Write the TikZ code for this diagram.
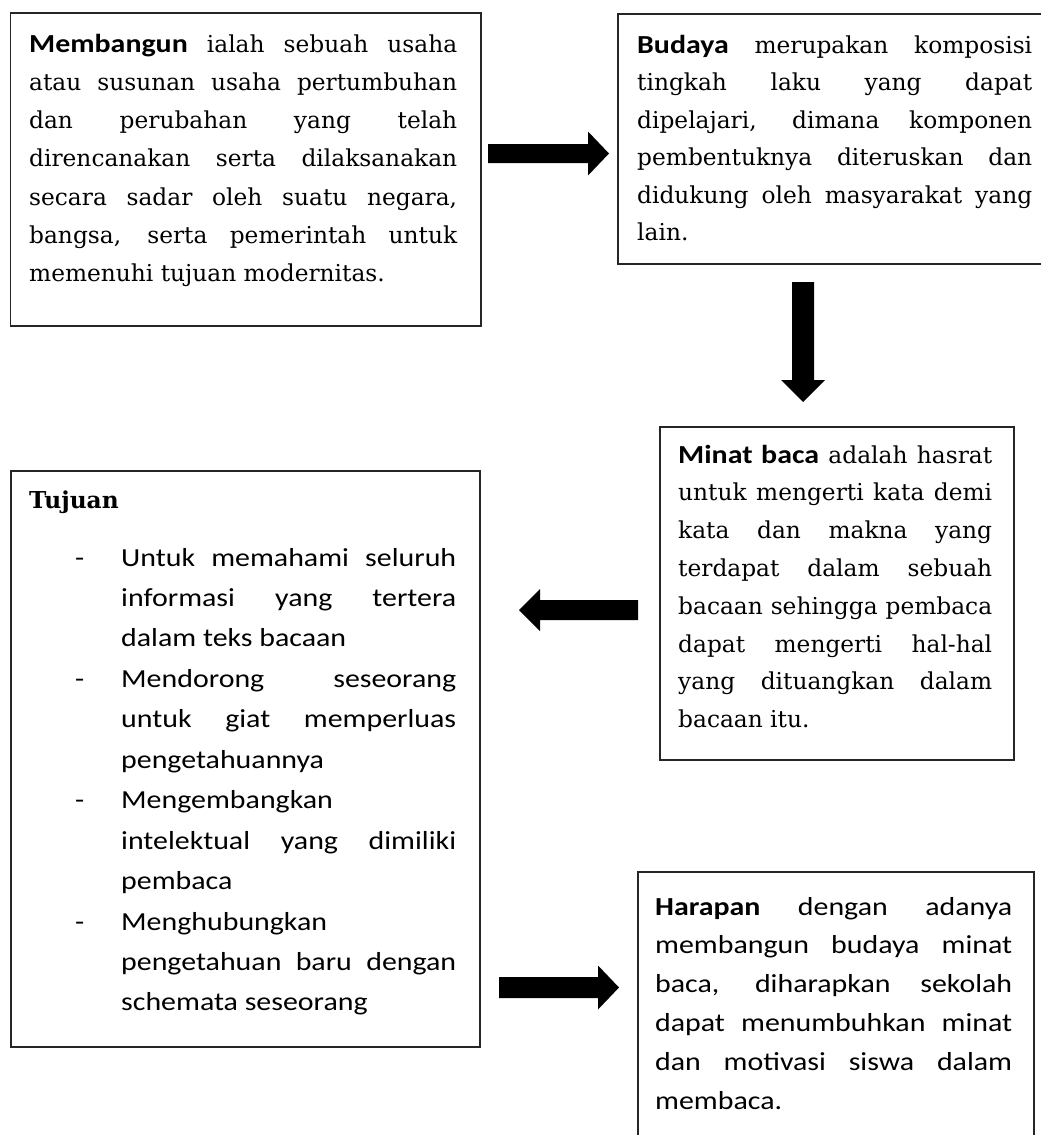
\documentclass[tikz,border=0pt]{standalone}
\usepackage{fontspec}
\setmainfont{DejaVu Serif}
\newfontfamily\sansA[FakeStretch=1.15]{Carlito}
\newcommand\sfb[1]{{\sansA\bfseries\fontsize{26pt}{38pt}\selectfont #1}}
\newcommand\serifsz{\fontsize{23.3pt}{38.3pt}\selectfont}
\newcommand\sanssz{\sansA\fontsize{26pt}{40pt}\selectfont}
\tikzset{
  boxst/.style={draw=black!85, line width=1.8pt, rectangle, inner sep=0pt, anchor=north west},
  txt/.style={inner sep=0pt, anchor=base west, text=black},
  arrowfill/.style={fill=black}
}
\begin{document}
\begin{tikzpicture}[x=1pt,y=-1pt]
\useasboundingbox (0,0) rectangle (1041,1135);

% boxes
\node[boxst, minimum width=470.5pt, minimum height=313pt] (b1) at (9.5,12) {};
\node[boxst, minimum width=428pt, minimum height=250pt] (b2) at (617,13) {};
\node[boxst, minimum width=354pt, minimum height=333pt] (b3) at (659,426) {};
\node[boxst, minimum width=469pt, minimum height=576pt] (b4) at (10,470) {};
\node[boxst, minimum width=396pt, minimum height=274pt] (b5) at (637,871) {};

% box 1 text
\node[txt] (t1) at (29,52) {\vtop{\serifsz\baselineskip=38.3pt
\hbox to 428pt{\sfb{Membangun} ialah sebuah usaha}
\hbox to 428pt{atau susunan usaha pertumbuhan}
\hbox to 428pt{dan perubahan yang telah}
\hbox to 428pt{direncanakan serta dilaksanakan}
\hbox to 428pt{secara sadar oleh suatu negara,}
\hbox to 428pt{bangsa, serta pemerintah untuk}
\hbox{memenuhi tujuan modernitas.}}};

% box 2 text
\node[txt] (t2) at (637,53) {\vtop{\serifsz\baselineskip=37.5pt
\hbox to 395pt{\sfb{Budaya} merupakan komposisi}
\hbox to 395pt{tingkah laku yang dapat}
\hbox to 395pt{dipelajari, dimana komponen}
\hbox to 395pt{pembentuknya diteruskan dan}
\hbox to 395pt{didukung oleh masyarakat yang}
\hbox{lain.}}};

% box 3 text
\node[txt] (t3) at (678,463) {\vtop{\serifsz\baselineskip=37.8pt
\hbox to 314pt{\sfb{Minat baca} adalah hasrat}
\hbox to 314pt{untuk mengerti kata demi}
\hbox to 314pt{kata dan makna yang}
\hbox to 314pt{terdapat dalam sebuah}
\hbox to 314pt{bacaan sehingga pembaca}
\hbox to 314pt{dapat mengerti hal-hal}
\hbox to 314pt{yang dituangkan dalam}
\hbox{bacaan itu.}}};

% box 4 text
\node[txt] (t4h) at (29,508) {\serifsz\bfseries Tujuan};
\node[txt] (t4) at (121,566) {\vtop{\sanssz\baselineskip=40.45pt
\hbox to 335pt{\llap{-\hskip 37pt}Untuk memahami seluruh}
\hbox to 335pt{informasi yang tertera}
\hbox{dalam teks bacaan}
\hbox to 335pt{\llap{-\hskip 37pt}Mendorong seseorang}
\hbox to 335pt{untuk giat memperluas}
\hbox{pengetahuannya}
\hbox{\llap{-\hskip 37pt}Mengembangkan}
\hbox to 335pt{intelektual yang dimiliki}
\hbox{pembaca}
\hbox{\llap{-\hskip 37pt}Menghubungkan}
\hbox to 335pt{pengetahuan baru dengan}
\hbox{schemata seseorang}}};

% box 5 text
\node[txt] (t5) at (655,915) {\vtop{\sanssz\baselineskip=38.8pt
\hbox to 357pt{\bfseries Harapan\mdseries{} dengan adanya}
\hbox to 357pt{membangun budaya minat}
\hbox to 357pt{baca, diharapkan sekolah}
\hbox to 357pt{dapat menumbuhkan minat}
\hbox to 357pt{dan motivasi siswa dalam}
\hbox{membaca.}}};

% block arrows
\coordinate (a1) at (488,153.5);
\fill[arrowfill] (a1) ++(0,-9.5) -- ++(100,0) -- ++(0,-12.5) -- ++(21,22) -- ++(-21,22) -- ++(0,-12.5) -- ++(-100,0) -- cycle;
\coordinate (a2) at (803,282);
\fill[arrowfill] (a2) ++(-11,0) -- ++(22,0) -- ++(0,98) -- ++(11,0) -- ++(-22,22) -- ++(-22,-22) -- ++(11,0) -- cycle;
\coordinate (a3) at (638,610);
\fill[arrowfill] (a3) ++(0,-10) -- ++(-98,0) -- ++(0,-11) -- ++(-21,21) -- ++(21,21) -- ++(0,-11) -- ++(98,0) -- cycle;
\coordinate (a4) at (499,987.5);
\fill[arrowfill] (a4) ++(0,-10.5) -- ++(99,0) -- ++(0,-11.5) -- ++(21,22) -- ++(-21,22) -- ++(0,-11.5) -- ++(-99,0) -- cycle;
\end{tikzpicture}
\end{document}
